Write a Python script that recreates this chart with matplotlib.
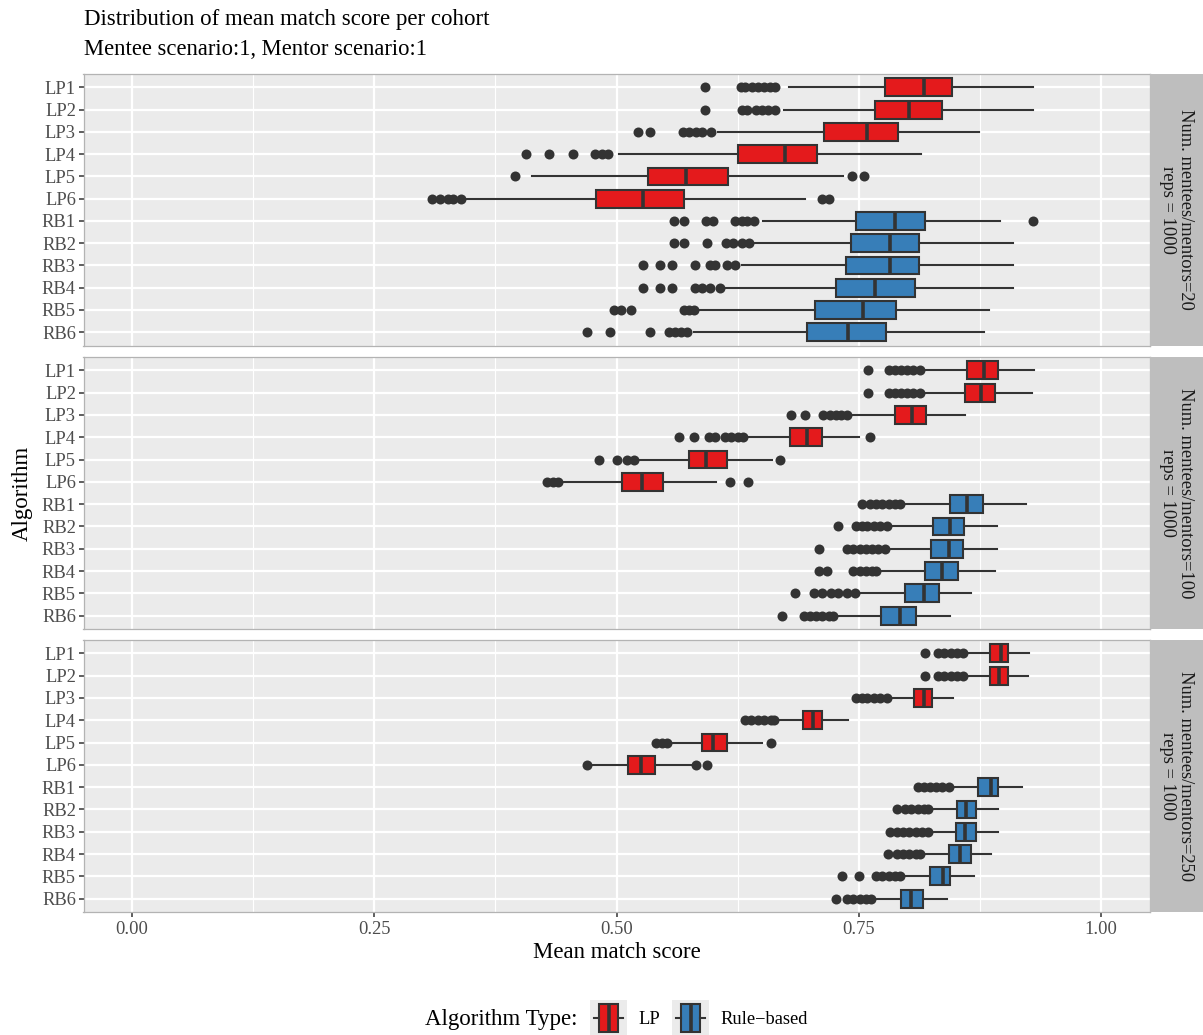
import matplotlib
matplotlib.use("Agg")
import matplotlib.pyplot as plt

plt.rcParams["font.family"] = ["Liberation Serif", "DejaVu Serif"]

algorithms = ["LP1", "LP2", "LP3", "LP4", "LP5", "LP6",
              "RB1", "RB2", "RB3", "RB4", "RB5", "RB6"]
algo_type = ["LP"] * 6 + ["Rule-based"] * 6
type_colors = {"LP": "#E41A1C", "Rule-based": "#377EB8"}
strip_labels = ["Num. mentees/mentors=20\nreps = 1000",
                "Num. mentees/mentors=100\nreps = 1000",
                "Num. mentees/mentors=250\nreps = 1000"]

# five-number summaries (whisker low, Q1, median, Q3, whisker high) per cohort size
n20_low = [0.678, 0.673, 0.605, 0.503, 0.413, 0.344, 0.651, 0.642, 0.629, 0.612, 0.584, 0.580]
n20_q1 = [0.777, 0.767, 0.714, 0.625, 0.532, 0.479, 0.747, 0.742, 0.737, 0.727, 0.705, 0.697]
n20_med = [0.817, 0.802, 0.759, 0.674, 0.572, 0.527, 0.787, 0.782, 0.782, 0.767, 0.754, 0.739]
n20_q3 = [0.846, 0.836, 0.790, 0.707, 0.615, 0.570, 0.818, 0.812, 0.812, 0.808, 0.788, 0.778]
n20_high = [0.930, 0.930, 0.874, 0.814, 0.734, 0.694, 0.896, 0.909, 0.909, 0.909, 0.884, 0.879]
n20_out = [
    [0.591, 0.628, 0.633, 0.640, 0.646, 0.652, 0.658, 0.664],
    [0.591, 0.629, 0.635, 0.644, 0.650, 0.656, 0.664],
    [0.522, 0.535, 0.569, 0.575, 0.582, 0.588, 0.597],
    [0.407, 0.430, 0.455, 0.478, 0.485, 0.491],
    [0.395, 0.743, 0.755],
    [0.310, 0.318, 0.326, 0.331, 0.340, 0.712, 0.719],
    [0.559, 0.570, 0.592, 0.600, 0.622, 0.629, 0.635, 0.642, 0.930],
    [0.559, 0.570, 0.593, 0.613, 0.620, 0.630, 0.637],
    [0.527, 0.545, 0.557, 0.581, 0.596, 0.602, 0.614, 0.622],
    [0.527, 0.545, 0.557, 0.581, 0.588, 0.596, 0.607],
    [0.497, 0.505, 0.515, 0.570, 0.575, 0.580],
    [0.470, 0.493, 0.535, 0.554, 0.560, 0.567, 0.573],
]

n100_low = [0.819, 0.819, 0.742, 0.633, 0.522, 0.445, 0.798, 0.783, 0.780, 0.769, 0.750, 0.724]
n100_q1 = [0.862, 0.860, 0.787, 0.679, 0.575, 0.506, 0.844, 0.827, 0.825, 0.818, 0.798, 0.773]
n100_med = [0.879, 0.876, 0.805, 0.697, 0.592, 0.526, 0.862, 0.844, 0.843, 0.836, 0.817, 0.793]
n100_q3 = [0.894, 0.891, 0.819, 0.712, 0.614, 0.548, 0.878, 0.859, 0.858, 0.852, 0.833, 0.809]
n100_high = [0.931, 0.929, 0.860, 0.750, 0.660, 0.603, 0.923, 0.893, 0.893, 0.891, 0.866, 0.844]
n100_out = [
    [0.760, 0.781, 0.787, 0.794, 0.800, 0.806, 0.813],
    [0.760, 0.781, 0.787, 0.794, 0.800, 0.806, 0.813],
    [0.680, 0.694, 0.713, 0.720, 0.726, 0.732, 0.738],
    [0.565, 0.580, 0.595, 0.602, 0.612, 0.618, 0.625, 0.631, 0.762],
    [0.482, 0.501, 0.511, 0.518, 0.669],
    [0.428, 0.434, 0.440, 0.617, 0.636],
    [0.753, 0.762, 0.768, 0.774, 0.781, 0.787, 0.793],
    [0.729, 0.747, 0.753, 0.759, 0.766, 0.772, 0.779],
    [0.709, 0.738, 0.744, 0.751, 0.757, 0.764, 0.770, 0.777],
    [0.709, 0.717, 0.744, 0.751, 0.757, 0.764, 0.768],
    [0.684, 0.704, 0.712, 0.721, 0.729, 0.738, 0.746],
    [0.671, 0.693, 0.700, 0.706, 0.712, 0.719, 0.723],
]

n250_low = [0.861, 0.861, 0.783, 0.665, 0.554, 0.473, 0.845, 0.826, 0.824, 0.815, 0.798, 0.766]
n250_q1 = [0.885, 0.885, 0.8065, 0.692, 0.588, 0.512, 0.873, 0.851, 0.850, 0.843, 0.824, 0.794]
n250_med = [0.897, 0.895, 0.817, 0.7025, 0.600, 0.525, 0.886, 0.861, 0.860, 0.854, 0.837, 0.804]
n250_q3 = [0.904, 0.904, 0.826, 0.712, 0.614, 0.540, 0.894, 0.871, 0.871, 0.866, 0.844, 0.816]
n250_high = [0.926, 0.925, 0.847, 0.739, 0.650, 0.5775, 0.918, 0.894, 0.894, 0.886, 0.869, 0.841]
n250_out = [
    [0.8185, 0.832, 0.838, 0.845, 0.851, 0.858],
    [0.8185, 0.832, 0.838, 0.845, 0.851, 0.858],
    [0.747, 0.753, 0.759, 0.766, 0.772, 0.779],
    [0.633, 0.639, 0.646, 0.652, 0.659, 0.663],
    [0.541, 0.547, 0.552, 0.659],
    [0.4696, 0.582, 0.593],
    [0.811, 0.817, 0.823, 0.830, 0.836, 0.843],
    [0.789, 0.798, 0.804, 0.811, 0.817, 0.821],
    [0.782, 0.789, 0.796, 0.802, 0.809, 0.815, 0.821],
    [0.780, 0.789, 0.796, 0.802, 0.809, 0.813],
    [0.733, 0.750, 0.768, 0.774, 0.781, 0.787, 0.793],
    [0.726, 0.738, 0.744, 0.751, 0.757, 0.763],
]

x_ticks = [0.0, 0.25, 0.5, 0.75, 1.0]
x_ticklabels = ["0.00", "0.25", "0.50", "0.75", "1.00"]

panels = [
    (n20_low, n20_q1, n20_med, n20_q3, n20_high, n20_out),
    (n100_low, n100_q1, n100_med, n100_q3, n100_high, n100_out),
    (n250_low, n250_q1, n250_med, n250_q3, n250_high, n250_out),
]

W, H = 1203, 1035
fig = plt.figure(figsize=(W / 100, H / 100), dpi=100)

EDGE = "#333333"
PANEL_BG = "#EBEBEB"
TXT = "#4D4D4D"


def px_rect(x0, y0, x1, y1):
    return [x0 / W, 1 - y1 / H, (x1 - x0) / W, (y1 - y0) / H]


def draw_boxes(ax, stats, colors, positions, widths):
    bp = ax.bxp(stats, positions=positions, widths=widths, orientation="horizontal",
                patch_artist=True, showcaps=False,
                boxprops=dict(edgecolor=EDGE, linewidth=1.5),
                whiskerprops=dict(color=EDGE, linewidth=1.5),
                medianprops=dict(color=EDGE, linewidth=2.6, solid_capstyle="butt"),
                flierprops=dict(marker="o", markerfacecolor=EDGE, markeredgecolor="none",
                                markersize=7.2))
    for patch, c in zip(bp["boxes"], colors):
        patch.set_facecolor(c)
    return bp


panel_px = [(74, 345.6), (357, 629), (640, 912)]
left_px, right_px = 83.5, 1149.5

for i, ((lo, q1, med, q3, hi, out), (top, bot)) in enumerate(zip(panels, panel_px)):
    ax = fig.add_axes(px_rect(left_px, top, right_px, bot))
    ax.set_facecolor(PANEL_BG)
    stats = [dict(whislo=a, q1=b, med=c, q3=d, whishi=e, fliers=f)
             for a, b, c, d, e, f in zip(lo, q1, med, q3, hi, out)]
    colors = [type_colors[t] for t in algo_type]
    draw_boxes(ax, stats, colors, list(range(len(algorithms))), 0.8)

    ax.set_xlim(-0.05, 1.05)
    ax.set_ylim(len(algorithms) - 0.4, -0.6)
    ax.set_yticks(range(len(algorithms)))
    ax.set_yticklabels(algorithms, fontsize=13.3, color=TXT)
    ax.set_xticks(x_ticks)
    ax.set_xticks([0.125, 0.375, 0.625, 0.875], minor=True)
    ax.set_axisbelow(True)
    ax.grid(which="major", color="white", linewidth=1.6)
    ax.grid(which="minor", axis="x", color="white", linewidth=0.8)
    ax.tick_params(axis="y", which="both", length=3.5, width=1.1, color=EDGE, pad=2)
    ax.tick_params(axis="x", which="minor", length=0)
    if i == 2:
        ax.set_xticklabels(x_ticklabels, fontsize=13.3, color=TXT)
        ax.tick_params(axis="x", which="major", length=3.5, width=1.1, color=EDGE, pad=3)
    else:
        ax.tick_params(axis="x", which="major", length=0, labelbottom=False)
    for sp in ax.spines.values():
        sp.set_color("#B3B3B3")
        sp.set_linewidth(0.9)

    # facet strip on the right
    sax = fig.add_axes(px_rect(right_px, top, W, bot))
    sax.set_facecolor("#BEBEBE")
    sax.set_xticks([])
    sax.set_yticks([])
    for sp in sax.spines.values():
        sp.set_visible(False)
    sax.text(0.5, 0.5, strip_labels[i], rotation=270, ha="center", va="center",
             multialignment="center", fontsize=13.3, color="#1A1A1A",
             linespacing=1.05, transform=sax.transAxes)

fig.text(83.5 / W, 1 - 25 / H, "Distribution of mean match score per cohort",
         fontsize=16.5, va="baseline", ha="left", color="black")
fig.text(83.5 / W, 1 - 55 / H, "Mentee scenario:1, Mentor scenario:1",
         fontsize=16.3, va="baseline", ha="left", color="black")
fig.text(616.5 / W, 1 - 953 / H, "Mean match score", fontsize=16.5,
         ha="center", va="center")
fig.text(22 / W, 1 - 493 / H, "Algorithm", fontsize=16.5, rotation=90,
         ha="center", va="center")

# legend
fig.text(425 / W, 1 - 1019 / H, "Algorithm Type:", fontsize=16.5,
         ha="left", va="center")
key_spec = [("LP", 590, 638), ("Rule-based", 672, 720)]
for name, kx, tx in key_spec:
    kax = fig.add_axes(px_rect(kx, 1000, kx + 37, 1035))
    kax.set_facecolor(PANEL_BG)
    draw_boxes(kax, [dict(whislo=0.1, q1=0.25, med=0.5, q3=0.75, whishi=0.9, fliers=[])],
               [type_colors[name]], [0], 0.8)
    kax.set_xlim(0, 1)
    kax.set_ylim(-0.5, 0.5)
    kax.set_xticks([])
    kax.set_yticks([])
    for sp in kax.spines.values():
        sp.set_visible(False)
    fig.text(tx / W, 1 - 1019 / H, name.replace("-", "\u2212"), fontsize=13.3,
             ha="left", va="center")

fig.savefig("out.png", dpi=100)
